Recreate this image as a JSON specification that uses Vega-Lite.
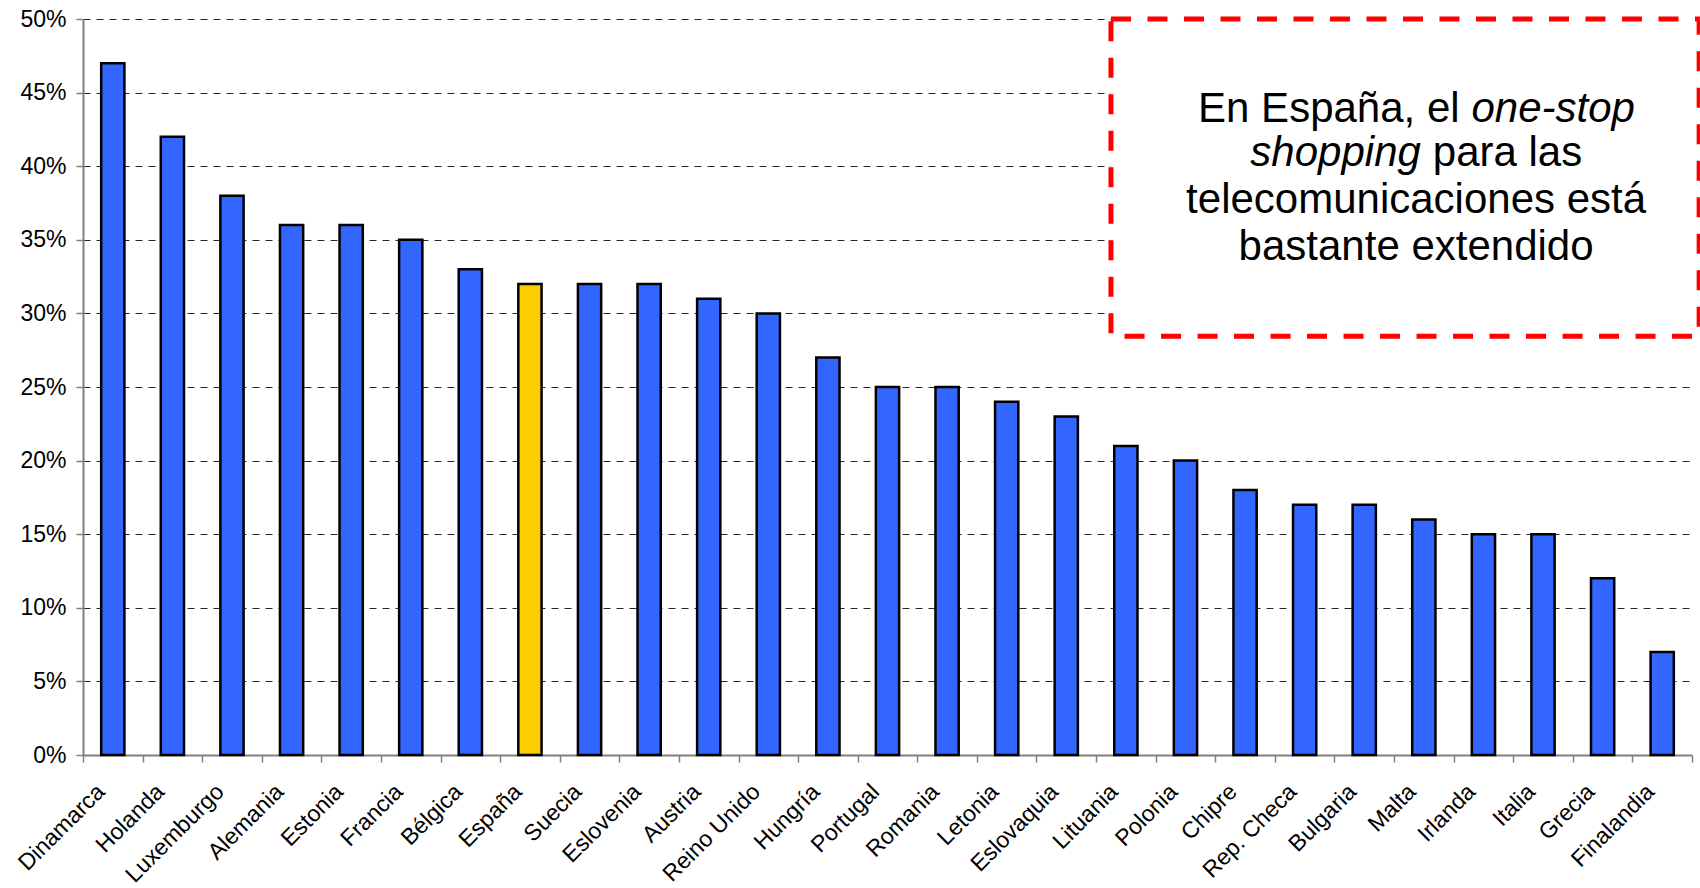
{
  "$schema": "https://vega.github.io/schema/vega-lite/v6.json",
  "autosize": {"type": "none"},
  "padding": {"left": 83, "top": 19, "right": 8, "bottom": 133},
  "width": 1609,
  "height": 736,
  "background": "white",
  "config": {
    "view": {"stroke": null},
    "font": "Liberation Sans"
  },
  "data": {
    "values": [
      {"pais": "Dinamarca", "valor": 47},
      {"pais": "Holanda", "valor": 42},
      {"pais": "Luxemburgo", "valor": 38},
      {"pais": "Alemania", "valor": 36},
      {"pais": "Estonia", "valor": 36},
      {"pais": "Francia", "valor": 35},
      {"pais": "Bélgica", "valor": 33},
      {"pais": "España", "valor": 32},
      {"pais": "Suecia", "valor": 32},
      {"pais": "Eslovenia", "valor": 32},
      {"pais": "Austria", "valor": 31},
      {"pais": "Reino Unido", "valor": 30},
      {"pais": "Hungría", "valor": 27},
      {"pais": "Portugal", "valor": 25},
      {"pais": "Romania", "valor": 25},
      {"pais": "Letonia", "valor": 24},
      {"pais": "Eslovaquia", "valor": 23},
      {"pais": "Lituania", "valor": 21},
      {"pais": "Polonia", "valor": 20},
      {"pais": "Chipre", "valor": 18},
      {"pais": "Rep. Checa", "valor": 17},
      {"pais": "Bulgaria", "valor": 17},
      {"pais": "Malta", "valor": 16},
      {"pais": "Irlanda", "valor": 15},
      {"pais": "Italia", "valor": 15},
      {"pais": "Grecia", "valor": 12},
      {"pais": "Finalandia", "valor": 7}
    ]
  },
  "resolve": {"scale": {"x": "independent"}, "axis": {"x": "independent"}},
  "layer": [
    {
      "mark": {"type": "bar", "width": {"band": 0.39}, "stroke": "black", "strokeWidth": 2.5},
      "encoding": {
        "x": {
          "field": "pais", "type": "nominal", "sort": null,
          "scale": {"paddingInner": 0, "paddingOuter": 0},
          "axis": {
            "title": null, "labelAngle": -45, "labelAlign": "right", "labelBaseline": "top",
            "labelFontSize": 23, "labelColor": "black", "labelPadding": 18, "labelOffset": -20,
            "tickBand": "extent", "tickSize": 7, "tickColor": "#808080", "tickWidth": 1.5,
            "domainColor": "#808080", "domainWidth": 2, "grid": false
          }
        },
        "y": {
          "field": "valor", "type": "quantitative",
          "scale": {"domain": [0, 50], "nice": false},
          "axis": {
            "title": null, "values": [0, 5, 10, 15, 20, 25, 30, 35, 40, 45, 50],
            "labelExpr": "datum.value + '%'", "labelFontSize": 23, "labelColor": "black",
            "labelPadding": 10, "tickSize": 7, "tickColor": "#808080", "tickWidth": 1.5,
            "domainColor": "#808080", "domainWidth": 2,
            "grid": true, "gridColor": "black", "gridWidth": 1, "gridDash": [7, 6], "gridOpacity": 0.85
          }
        },
        "color": {
          "condition": {"test": "datum.pais === 'España'", "value": "#FFCC00"},
          "value": "#3366FF"
        }
      }
    },
    {
      "layer": [
        {
          "data": {"values": [{"nota": "recuadro"}]},
          "mark": {"type": "rect", "fill": "white", "stroke": "#FF0000", "strokeWidth": 5, "strokeDash": [20, 16.5], "clip": false},
          "encoding": {
            "x": {"datum": 17.25, "type": "quantitative", "scale": {"domain": [0, 27], "nice": false, "zero": false}, "axis": null},
            "x2": {"datum": 27.12},
            "y": {"datum": 50, "type": "quantitative"},
            "y2": {"datum": 28.45}
          }
        },
        {
          "data": {"values": [{"t": "En España, el"}]},
          "mark": {"type": "text", "align": "right", "baseline": "alphabetic", "fontSize": 42, "color": "black"},
          "encoding": {
            "x": {"datum": 23.1, "type": "quantitative", "scale": {"domain": [0, 27], "nice": false, "zero": false}, "axis": null},
            "y": {"datum": 42.98, "type": "quantitative"},
            "text": {"field": "t"}
          }
        },
        {
          "data": {"values": [{"t": "one-stop"}]},
          "mark": {"type": "text", "align": "left", "baseline": "alphabetic", "fontSize": 42, "fontStyle": "italic", "color": "black"},
          "encoding": {
            "x": {"datum": 23.3, "type": "quantitative", "scale": {"domain": [0, 27], "nice": false, "zero": false}, "axis": null},
            "y": {"datum": 42.98, "type": "quantitative"},
            "text": {"field": "t"}
          }
        },
        {
          "data": {"values": [{"t": "shopping"}]},
          "mark": {"type": "text", "align": "right", "baseline": "alphabetic", "fontSize": 42, "fontStyle": "italic", "color": "black"},
          "encoding": {
            "x": {"datum": 22.45, "type": "quantitative", "scale": {"domain": [0, 27], "nice": false, "zero": false}, "axis": null},
            "y": {"datum": 40.0, "type": "quantitative"},
            "text": {"field": "t"}
          }
        },
        {
          "data": {"values": [{"t": "para las"}]},
          "mark": {"type": "text", "align": "left", "baseline": "alphabetic", "fontSize": 42, "color": "black"},
          "encoding": {
            "x": {"datum": 22.65, "type": "quantitative", "scale": {"domain": [0, 27], "nice": false, "zero": false}, "axis": null},
            "y": {"datum": 40.0, "type": "quantitative"},
            "text": {"field": "t"}
          }
        },
        {
          "data": {"values": [{"t": "telecomunicaciones está"}]},
          "mark": {"type": "text", "align": "center", "baseline": "alphabetic", "fontSize": 42, "color": "black"},
          "encoding": {
            "x": {"datum": 22.37, "type": "quantitative", "scale": {"domain": [0, 27], "nice": false, "zero": false}, "axis": null},
            "y": {"datum": 36.83, "type": "quantitative"},
            "text": {"field": "t"}
          }
        },
        {
          "data": {"values": [{"t": "bastante extendido"}]},
          "mark": {"type": "text", "align": "center", "baseline": "alphabetic", "fontSize": 42, "color": "black"},
          "encoding": {
            "x": {"datum": 22.37, "type": "quantitative", "scale": {"domain": [0, 27], "nice": false, "zero": false}, "axis": null},
            "y": {"datum": 33.66, "type": "quantitative"},
            "text": {"field": "t"}
          }
        }
      ]
    }
  ]
}
